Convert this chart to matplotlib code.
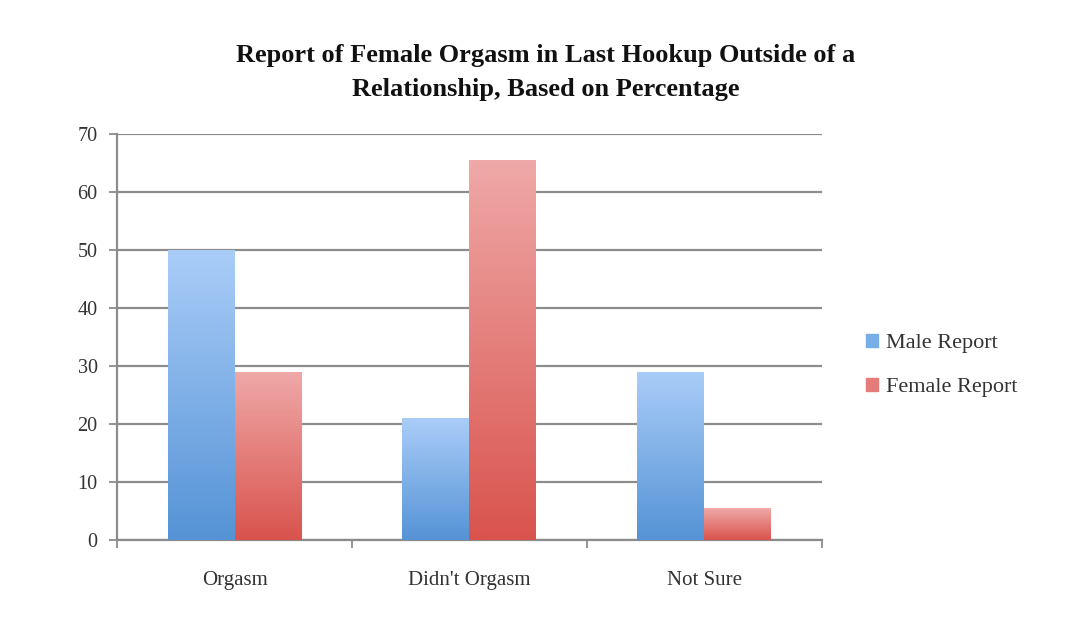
import matplotlib
matplotlib.use("Agg")
import matplotlib.pyplot as plt
import numpy as np
from matplotlib.colors import LinearSegmentedColormap
from matplotlib.patches import Patch

categories = ["Orgasm", "Didn't Orgasm", "Not Sure"]
male_report = [50, 21, 29]
female_report = [29, 65.5, 5.5]
series_names = ["Male Report", "Female Report"]

plt.rcParams["font.family"] = ["Liberation Serif", "DejaVu Serif"]

fig = plt.figure(figsize=(10.84, 6.36), dpi=100)
ax = fig.add_axes([0.108, 0.151, 0.650, 0.638])

blue_cmap = LinearSegmentedColormap.from_list("b", ["#5593d6", "#aacdf8"])
red_cmap = LinearSegmentedColormap.from_list("r", ["#d9534d", "#efa9a8"])

x = np.arange(len(categories))
w = 0.285
bars_m = ax.bar(x - w / 2, male_report, w, color="none", zorder=3)
bars_f = ax.bar(x + w / 2, female_report, w, color="none", zorder=3)

# вертикальный градиент внутри каждого столбца
grad = np.linspace(0, 1, 256).reshape(-1, 1)
for bars, cmap in ((bars_m, blue_cmap), (bars_f, red_cmap)):
    for b in bars:
        x0, y0 = b.get_x(), b.get_y()
        im = ax.imshow(grad, cmap=cmap, aspect="auto", origin="lower",
                       extent=[x0, x0 + b.get_width(), y0, y0 + b.get_height()],
                       zorder=3)
        im.set_clip_path(b)

ax.set_xlim(-0.5, 2.5)
ax.set_ylim(0, 70)
ax.set_yticks(range(0, 71, 10))
ax.yaxis.grid(True, color="#8c8c8c", linewidth=1.6, zorder=1)
ax.set_axisbelow(True)

ax.set_xticks([-0.5, 0.5, 1.5, 2.5])
ax.set_xticklabels([])
ax.set_xticks(x, minor=True)
ax.set_xticklabels(categories, minor=True, fontsize=15, color="#333333")
ax.tick_params(axis="x", which="minor", length=0, pad=22)
ax.tick_params(axis="x", which="major", length=6, width=1.3, color="#8c8c8c")
ax.tick_params(axis="y", length=6, width=1.3, color="#8c8c8c",
               labelsize=14.5, labelcolor="#333333", pad=8)

for s in ("top", "right"):
    ax.spines[s].set_visible(False)
for s in ("left", "bottom"):
    ax.spines[s].set_color("#8c8c8c")
    ax.spines[s].set_linewidth(1.6)

fig.text(0.503, 0.886,
         "Report of Female Orgasm in Last Hookup Outside of a\nRelationship, Based on Percentage",
         ha="center", va="center", fontsize=19, fontweight="bold",
         linespacing=1.65, color="#111111")

handles = [Patch(color="#78aee8", label=series_names[0]),
           Patch(color="#e57c78", label=series_names[1])]
fig.legend(handles=handles, loc="center left", bbox_to_anchor=(0.78, 0.425),
           frameon=False, fontsize=16, handlelength=0.55, handleheight=0.55,
           handletextpad=0.35, labelspacing=1.1, labelcolor="#333333")

fig.savefig("out.png", dpi=100, facecolor="white")
